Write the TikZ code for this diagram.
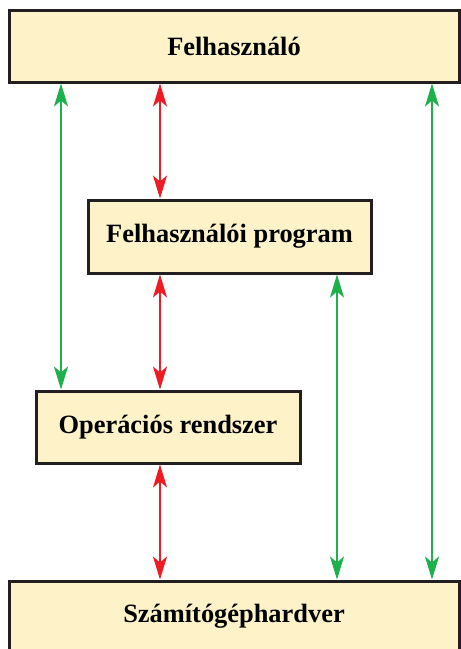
\documentclass[tikz,border=0pt]{standalone}
\usepackage{fontspec}
\setmainfont{Liberation Serif}
\usetikzlibrary{arrows.meta}
\definecolor{boxfill}{RGB}{253,242,200}
\definecolor{boxline}{RGB}{35,31,32}
\definecolor{arrgreen}{RGB}{29,176,75}
\definecolor{arrred}{RGB}{237,28,36}
\tikzset{
	layer/.style = {draw=boxline, fill=boxfill, line width=3pt, inner sep=0pt,
		font=\fontsize{26.4}{30}\selectfont\bfseries},
	link/.style = {line width=2.2pt, {Stealth[length=23pt,width=14pt,inset=6pt]}-{Stealth[length=23pt,width=14pt,inset=6pt]}},
}

\begin{document}
\begin{tikzpicture}[x=1pt, y=-1pt]
	\useasboundingbox (0,0) rectangle (461,649);
	\node[layer, minimum width=450pt, minimum height=72pt] (user) at (234,46) {Felhasználó};
	\node[layer, minimum width=283pt, minimum height=73pt] (prog) at (229.5,236.5) {Felhasználói program};
	\node[layer, minimum width=264pt, minimum height=72pt] (os) at (168,427) {Operációs rendszer};
	\node[layer, minimum width=450pt, minimum height=70pt] (hw) at (234,616) {Számítógéphardver};
	\coordinate (xa) at (61,0);
	\coordinate (xb) at (160,0);
	\coordinate (xc) at (337,0);
	\coordinate (xd) at (432,0);
	\draw[link, arrgreen] (user.south -| xa) -- (os.north -| xa);
	\draw[link, arrred] (user.south -| xb) -- (prog.north -| xb);
	\draw[link, arrred] (prog.south -| xb) -- (os.north -| xb);
	\draw[link, arrred] (os.south -| xb) -- (hw.north -| xb);
	\draw[link, arrgreen] (prog.south -| xc) -- (hw.north -| xc);
	\draw[link, arrgreen] (user.south -| xd) -- (hw.north -| xd);
\end{tikzpicture}
\end{document}
